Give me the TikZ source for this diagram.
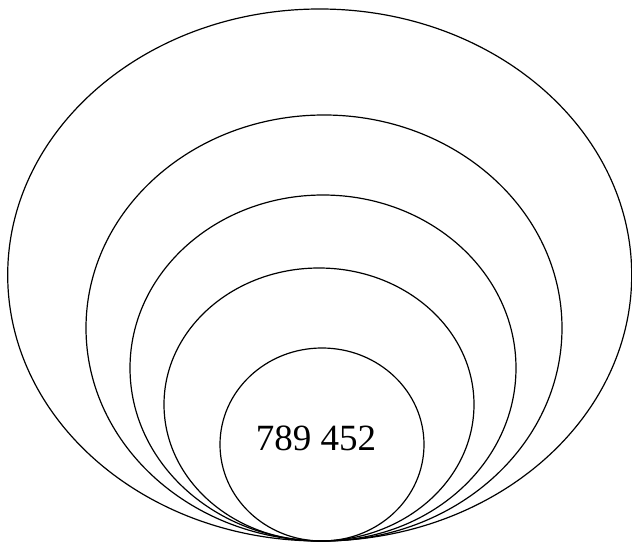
\documentclass[tikz,border=0pt]{standalone}
\usepackage{fontspec}
\setmainfont{Liberation Serif}
\usetikzlibrary{shapes.geometric}
\begin{document}
\begin{tikzpicture}[x=1pt,y=1pt,
  ring/.style={draw=black,line width=1.2pt,ellipse,inner sep=0pt,minimum width=#1}]
\useasboundingbox (0,0) rectangle (632,542);
\node[ring=624pt,minimum height=532pt] (e1) at (319.7,267) {};
\node[ring=476pt,minimum height=426pt] (e2) at (324,214) {};
\node[ring=386pt,minimum height=346pt] (e3) at (323,174) {};
\node[ring=310pt,minimum height=273pt] (e4) at (319,137.5) {};
\node[ring=204pt,minimum height=193pt] (e5) at (322,97.5) {};
\node[font=\fontsize{37}{40}\selectfont] (t) at (316,104) {789 452};
\end{tikzpicture}
\end{document}
